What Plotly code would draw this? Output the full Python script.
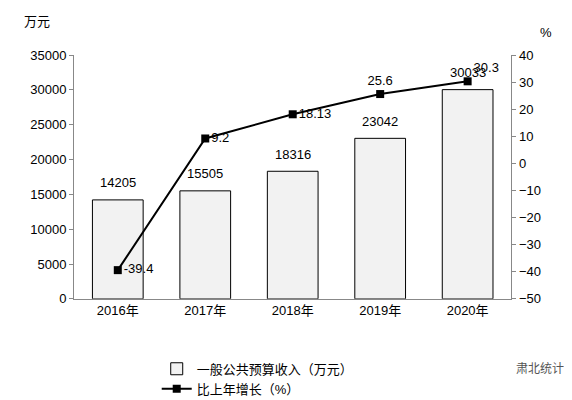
import plotly.graph_objects as go

years = ["2016年", "2017年", "2018年", "2019年", "2020年"]
revenue = [14205, 15505, 18316, 23042, 30033]
growth = [-39.4, 9.2, 18.13, 25.6, 30.3]
growth_labels = ["-39.4", "9.2", "18.13", "25.6", "30.3"]

font = dict(family="Liberation Sans, Noto Sans CJK SC", size=13, color="black")
fig = go.Figure()
fig.add_trace(go.Bar(x=years, y=revenue, name="一般公共预算收入（万元）",
    marker=dict(color="#f2f2f2", line=dict(color="black", width=1)), width=0.58))
fig.add_trace(go.Scatter(x=years, y=growth, yaxis="y2", name="比上年增长（%）",
    mode="lines+markers+text", line=dict(color="black", width=2),
    marker=dict(symbol="square", size=8, color="black"),
    text=growth_labels, textposition=["middle right","middle right","middle right","top center","top right"],
    textfont=font, cliponaxis=False))
annots = [dict(x=x, y=v, text=str(v), showarrow=False, yshift=17, font=font, xref="x", yref="y")
          for x, v in zip(years, revenue)]
annots += [
    dict(text="万元", x=0.025, y=0.985, xref="paper", yref="paper", showarrow=False, xanchor="left", yanchor="middle",
         font=dict(family="Noto Sans CJK SC", size=13)),
    dict(text="%", x=0.955, y=0.98, xref="paper", yref="paper", showarrow=False, font=font),
    dict(text="肃北统计", x=0.975, y=0.057, xref="paper", yref="paper", showarrow=False, xanchor="right",
         font=dict(family="Noto Sans CJK SC", size=12, color="#555")),
]
fig.update_layout(width=572, height=400, margin=dict(l=0, r=0, t=0, b=0),
    paper_bgcolor="white", plot_bgcolor="white", font=font,
    xaxis=dict(domain=[0.1155, 0.88], anchor="y", showline=True, linecolor="#888",
               ticks="", tickfont=font),
    yaxis=dict(domain=[0.2627, 0.896], range=[0, 35000], dtick=5000, tickformat="d", showline=True,
               linecolor="#888", ticks="outside", ticklen=4, tickcolor="#888",
               showgrid=False, zeroline=False, tickfont=font),
    yaxis2=dict(overlaying="y", side="right", range=[-50, 40], dtick=10, showline=True,
                linecolor="#888", ticks="outside", ticklen=4, tickcolor="#888",
                showgrid=False, zeroline=False, tickfont=font),
    legend=dict(x=0.26, y=0.12, xanchor="left", yanchor="top", font=font,
                bgcolor="rgba(0,0,0,0)", tracegroupgap=0),
    annotations=annots)
fig.write_html("out.html")
